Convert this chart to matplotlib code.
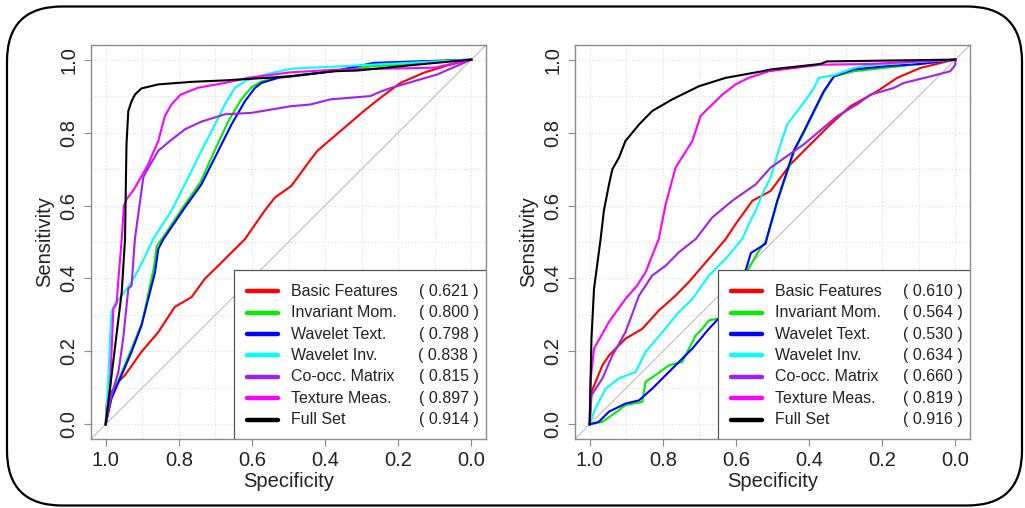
import numpy as np
import matplotlib
matplotlib.use("Agg")
import matplotlib.pyplot as plt
from matplotlib.patches import FancyBboxPatch, Rectangle

plt.rcParams['font.family'] = ['Liberation Sans', 'DejaVu Sans']

# series names, colours and AUC values
names = ["Basic Features", "Invariant Mom.", "Wavelet Text.", "Wavelet Inv.",
         "Co-occ. Matrix", "Texture Meas.", "Full Set"]
colors = ["#ff0000", "#00ee00", "#0000ff", "#00ffff", "#a020f0", "#ff00ff", "#000000"]
auc_left = [0.621, 0.800, 0.798, 0.838, 0.815, 0.897, 0.914]
auc_right = [0.610, 0.564, 0.530, 0.634, 0.660, 0.819, 0.916]

# ROC curves: (specificity, sensitivity)
L_BASIC = [(1, 0), (.997, .057), (.99, .08), (.965, .117), (.947, .135), (.902, .199),
           (.856, .253), (.811, .322), (.765, .349), (.729, .399), (.692, .435),
           (.637, .490), (.619, .508), (.565, .586), (.537, .622), (.492, .654),
           (.449, .713), (.421, .750), (.358, .804), (.294, .859), (.249, .895),
           (.194, .936), (.13, .964), (.066, .984), (0, 1)]
L_INV = [(1, 0), (.984, .075), (.93, .205), (.90, .28), (.868, .43), (.86, .49),
         (.845, .51), (.785, .60), (.74, .665), (.70, .755), (.665, .83), (.63, .89),
         (.60, .925), (.574, .94), (.528, .952), (.495, .955), (.377, .968),
         (.27, .982), (.13, .99), (0, 1)]
L_WTEXT = [(1, 0), (.984, .071), (.929, .199), (.902, .271), (.865, .417), (.856, .481),
           (.842, .508), (.783, .595), (.738, .658), (.692, .750), (.656, .822),
           (.619, .886), (.592, .922), (.574, .936), (.528, .950), (.495, .954),
           (.377, .968), (.267, .991), (0, 1)]
L_WINV = [(1, 0), (.993, .117), (.988, .235), (.984, .308), (.975, .33), (.956, .353),
          (.929, .390), (.902, .440), (.870, .508), (.820, .586), (.774, .677),
          (.738, .750), (.701, .822), (.674, .877), (.647, .922), (.619, .941),
          (.565, .959), (.492, .975), (.312, .984), (0, 1)]
L_COOC = [(1, 0), (.984, .080), (.965, .144), (.952, .235), (.938, .372), (.929, .381),
          (.920, .508), (.897, .677), (.888, .695), (.856, .75), (.824, .777),
          (.783, .809), (.738, .830), (.674, .850), (.601, .854), (.495, .872),
          (.44, .877), (.385, .891), (.276, .90), (.249, .912), (.221, .922),
          (.094, .959), (0, 1)]
L_TEXT = [(1, 0), (.988, .098), (.979, .317), (.970, .331), (.965, .399), (.956, .508),
          (.950, .599), (.943, .617), (.922, .645), (.886, .708), (.856, .777),
          (.838, .845), (.820, .877), (.795, .904), (.747, .923), (.674, .936),
          (.610, .950), (.495, .965), (.377, .972), (.10, .978), (0, 1)]
L_FULL = [(1, 0), (.956, .363), (.947, .508), (.943, .768), (.938, .859), (.929, .886),
          (.920, .904), (.902, .921), (.856, .932), (.765, .939), (.674, .943),
          (.495, .954), (.377, .968), (.312, .970), (.13, .988), (0, 1)]

R_BASIC = [(1, 0), (.997, .05), (.995, .089), (.965, .162), (.947, .189), (.902, .235),
           (.856, .262), (.811, .312), (.765, .353), (.729, .390), (.674, .454),
           (.628, .508), (.601, .549), (.555, .613), (.505, .640), (.451, .713),
           (.396, .768), (.342, .822), (.287, .872), (.214, .913), (.159, .950),
           (.096, .977), (.023, .995), (0, 1)]
R_INV = [(1, 0), (.965, .007), (.920, .039), (.902, .053), (.856, .062), (.847, .117),
         (.820, .135), (.783, .162), (.747, .171), (.710, .244), (.692, .262),
         (.674, .285), (.647, .29), (.62, .33), (.58, .40), (.541, .47), (.52, .50),
         (.50, .56), (.487, .61), (.46, .69), (.44, .75), (.414, .80), (.387, .855),
         (.36, .91), (.332, .954), (.278, .968), (.187, .978), (.096, .988), (0, 1)]
R_WTEXT = [(1, 0), (.975, .007), (.947, .035), (.902, .057), (.865, .066), (.829, .098),
           (.774, .153), (.719, .208), (.674, .262), (.656, .281), (.62, .32),
           (.58, .40), (.559, .47), (.519, .495), (.505, .549), (.487, .613),
           (.460, .695), (.442, .750), (.414, .804), (.387, .859), (.360, .913),
           (.332, .954), (.278, .973), (.187, .982), (.096, .988), (0, 1)]
R_WINV = [(1, 0), (.984, .044), (.956, .098), (.920, .126), (.874, .144), (.847, .199),
          (.801, .253), (.756, .308), (.719, .344), (.674, .408), (.628, .454),
          (.583, .508), (.565, .549), (.546, .586), (.528, .631), (.505, .677),
          (.478, .768), (.460, .822), (.432, .859), (.405, .895), (.387, .922),
          (.373, .950), (.332, .957), (.278, .977), (.232, .985), (0, 1)]
R_COOC = [(1, 0), (.995, .080), (.965, .126), (.938, .189), (.902, .253), (.865, .353),
          (.829, .408), (.792, .435), (.756, .472), (.710, .508), (.665, .567),
          (.610, .613), (.546, .658), (.505, .704), (.414, .768), (.323, .845),
          (.269, .877), (.232, .904), (.169, .922), (.141, .936), (.068, .954),
          (.014, .968), (0, .986), (0, 1)]
R_TEXT = [(1, 0), (.997, .126), (.988, .208), (.970, .24), (.947, .281), (.902, .344),
          (.870, .381), (.847, .417), (.829, .463), (.811, .508), (.792, .604),
          (.765, .704), (.719, .777), (.697, .845), (.674, .868), (.637, .904),
          (.601, .932), (.565, .950), (.510, .968), (.369, .986), (.232, .988), (0, 1)]
R_FULL = [(1, 0), (.995, .235), (.988, .372), (.970, .508), (.961, .586), (.947, .658),
          (.938, .699), (.920, .731), (.902, .777), (.865, .822), (.829, .859),
          (.774, .891), (.701, .927), (.628, .950), (.528, .968), (.505, .973),
          (.369, .988), (.351, .995), (0, 1)]

left_curves = [L_BASIC, L_INV, L_WTEXT, L_WINV, L_COOC, L_TEXT, L_FULL]
right_curves = [R_BASIC, R_INV, R_WTEXT, R_WINV, R_COOC, R_TEXT, R_FULL]

W, H = 1025, 508
fig = plt.figure(figsize=(W / 100, H / 100), dpi=100)

# rounded outer frame
frame = FancyBboxPatch((0.07, 0.025), 10.15, 4.99,
                       boxstyle="round,pad=0,rounding_size=0.55",
                       transform=fig.dpi_scale_trans, fill=False,
                       edgecolor="black", linewidth=1.6)
fig.patches.append(frame)

frame_col = "#8a8a8a"
txt_col = "#222222"


def roc_panel(ax, curves, aucs):
    ax.set_xlim(1.04, -0.04)
    ax.set_ylim(-0.04, 1.04)
    for g in np.arange(0, 1.01, 0.1):
        ax.axvline(g, color="#dcdcdc", lw=0.8, ls=(0, (1, 2)), zorder=0)
        ax.axhline(g, color="#dcdcdc", lw=0.8, ls=(0, (1, 2)), zorder=0)
    ax.axline((1, 0), (0, 1), color="#bdbdbd", lw=0.8, zorder=1)

    for pts, c in zip(curves, colors):
        spec = [p[0] for p in pts]
        sens = [p[1] for p in pts]
        ax.plot(spec, sens, color=c, lw=1.5, zorder=2)

    ticks = [1.0, 0.8, 0.6, 0.4, 0.2, 0.0]
    ax.set_xticks(ticks)
    ax.set_xticklabels([f"{t:.1f}" for t in ticks])
    ax.set_yticks(ticks)
    ax.set_yticklabels([f"{t:.1f}" for t in ticks], rotation=90, va="center")
    ax.tick_params(length=5, width=0.8, color=frame_col, labelsize=14.5,
                   labelcolor=txt_col)
    ax.tick_params(axis="x", pad=4)
    ax.tick_params(axis="y", pad=4)
    for s in ax.spines.values():
        s.set_color(frame_col)
        s.set_linewidth(1.0)

    ax.set_xlabel("Specificity", fontsize=14.5, color=txt_col)
    ax.set_ylabel("Sensitivity", fontsize=14.5, color=txt_col)
    ax.xaxis.set_label_coords(0.5, -0.107)
    ax.xaxis.label.set_va("center")
    ax.yaxis.set_label_coords(-0.1165, 0.5)
    ax.yaxis.label.set_va("center")

    # legend box in the bottom right corner
    lx = 0.361
    ax.add_patch(Rectangle((lx, 0), 1 - lx, 0.429, transform=ax.transAxes,
                           facecolor="white", edgecolor="#555555", lw=0.9,
                           zorder=5))
    for i, (n, c, a) in enumerate(zip(names, colors, aucs)):
        y = 0.375 - i * 0.0543
        ax.plot([0.394, 0.473], [y, y], transform=ax.transAxes, color=c,
                lw=3.2, solid_capstyle="round", zorder=6)
        ax.text(0.506, y, n, transform=ax.transAxes, fontsize=11.5,
                color=txt_col, va="center", ha="left", zorder=6)
        ax.text(0.981, y, f"( {a:.3f} )", transform=ax.transAxes,
                fontsize=11.5, color=txt_col, va="center", ha="right", zorder=6)


ax1 = fig.add_axes([91 / W, 1 - 439 / H, 395 / W, 394 / H])
ax2 = fig.add_axes([575 / W, 1 - 439 / H, 395 / W, 394 / H])
roc_panel(ax1, left_curves, auc_left)
roc_panel(ax2, right_curves, auc_right)

fig.savefig("out.png", dpi=100)
